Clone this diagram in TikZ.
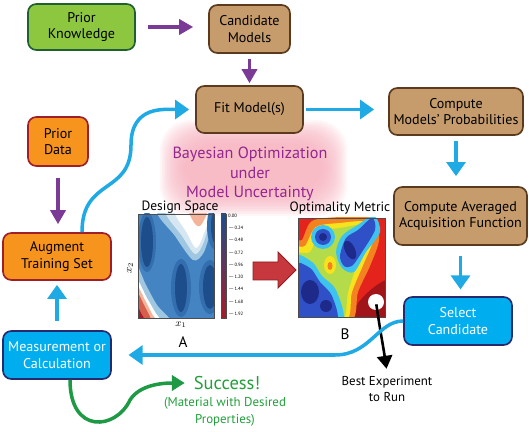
\documentclass[tikz,border=0pt]{standalone}
\usepackage{fontspec}
\setmainfont{PT Sans}
\usetikzlibrary{arrows.meta}

\definecolor{knowfill}{HTML}{8DC63F}
\definecolor{knowline}{HTML}{1F5F32}
\definecolor{modelfill}{HTML}{C69C6D}
\definecolor{modelline}{HTML}{5C3A1E}
\definecolor{datafill}{HTML}{F7941D}
\definecolor{dataline}{HTML}{9E1F2A}
\definecolor{stepfill}{HTML}{00AEEF}
\definecolor{stepline}{HTML}{262B70}
\definecolor{flowblue}{HTML}{1FAAE5}
\definecolor{flowpurple}{HTML}{7B3A96}
\definecolor{flowgreen}{HTML}{1E9A45}
\definecolor{titlepurple}{HTML}{92278F}
\definecolor{okgreen}{HTML}{22A03C}
\definecolor{glowpink}{HTML}{F6ACBA}
\definecolor{bigred}{HTML}{C7373E}
\definecolor{bigredline}{HTML}{8E1D22}
% RdBu for the design space
\definecolor{rbdark}{HTML}{1E4D8C}
\definecolor{rbblue}{HTML}{336FAE}
\definecolor{rbmid}{HTML}{4584C2}
\definecolor{rblight}{HTML}{9FC7E1}
\definecolor{rbpaler}{HTML}{D6E7F2}
\definecolor{rbpale}{HTML}{F5B49A}
\definecolor{rbred}{HTML}{D6604D}
\definecolor{rbdeep}{HTML}{A51C2A}
% jet for the optimality metric
\definecolor{jdeep}{HTML}{A0141A}
\definecolor{jred}{HTML}{E3231C}
\definecolor{jorange}{HTML}{F58220}
\definecolor{jyellow}{HTML}{F5E31E}
\definecolor{jgreen}{HTML}{B4DC4A}
\definecolor{jcyan}{HTML}{3EC3EE}
\definecolor{jblue}{HTML}{3050C8}
\definecolor{jdark}{HTML}{1E2A8A}

\tikzset{
  box/.style={draw, rounded corners=0.25cm, line width=1.4pt, align=center,
    inner sep=2pt, font=\fontsize{12}{14}\selectfont},
  knowbox/.style={box, fill=knowfill, draw=knowline},
  modelbox/.style={box, fill=modelfill, draw=modelline},
  databox/.style={box, fill=datafill, draw=dataline},
  stepbox/.style={box, fill=stepfill, draw=stepline, text=white},
  purpleflow/.style={draw=flowpurple, line width=2.6pt, -{Triangle[length=12pt,width=13pt]}},
  blueflow/.style={draw=flowblue, line width=3pt, -{Triangle[length=12pt,width=16pt]}},
  okflow/.style={draw=flowgreen, line width=3pt, -{Triangle[length=11pt,width=13pt]}},
  bestflow/.style={draw=black, line width=2.2pt, -{Triangle[length=11pt,width=13pt]}},
  plottitle/.style={font=\fontsize{11.5}{13}\selectfont},
  panel/.style={font=\fontsize{13}{15}\selectfont},
  tick/.style={anchor=west, inner sep=0pt, font=\fontsize{4}{4.5}\selectfont}
}

\begin{document}
\begin{tikzpicture}[x=0.03cm, y=-0.03cm]
\useasboundingbox (0,0) rectangle (529,432);

% glow behind the title
\foreach \k in {0,...,13}
  \fill[glowpink, opacity=0.11, rounded corners=0.9cm]
    ({160+1.8*\k},{120+1.8*\k}) rectangle ({347-1.8*\k},{216-1.8*\k});

% boxes
\node[knowbox, minimum width=3.21cm, minimum height=1.38cm] (know) at (81.5,27) {Prior\\Knowledge};
\node[modelbox, minimum width=2.43cm, minimum height=1.44cm] (cand) at (249.5,29) {Candidate\\Models};
\node[modelbox, minimum width=3.21cm, minimum height=1.41cm] (fit) at (249.5,109.5) {Fit Model(s)};
\node[modelbox, minimum width=4.02cm, minimum height=1.41cm] (prob) at (456,111.5) {Compute\\Models' Probabilities};
\node[modelbox, minimum width=3.99cm, minimum height=1.74cm] (acq) at (460.5,216) {Compute Averaged\\Acquisition Function};
\node[stepbox, minimum width=3.24cm, minimum height=1.44cm] (sel) at (458,321) {Select\\Candidate};
\node[stepbox, minimum width=3.24cm, minimum height=1.44cm] (meas) at (57,355) {Measurement or\\Calculation};
\node[databox, minimum width=3.24cm, minimum height=1.41cm] (aug) at (57,256.5) {Augment\\Training Set};
\node[databox, minimum width=1.8cm, minimum height=1.47cm] (pdata) at (58,141.5) {Prior\\Data};

\node[font=\fontsize{13.8}{16.5}\selectfont, text=titlepurple, align=center] (title) at (250,174)
  {Bayesian Optimization\\under\\Model Uncertainty};

% design space
\node[plottitle] (dtitle) at (180,207) {Design Space};
\begin{scope}
\clip (138,214) rectangle (214,318);
\fill[rbmid] (138,214) rectangle (214,318);
\fill[rblight] plot[smooth cycle] coordinates {(158,210) (175,236) (193,260) (204,252) (212,225) (214,210)};
\fill[rbpaler] plot[smooth cycle] coordinates {(166,210) (182,236) (195,254) (203,244) (210,222) (212,210)};
\fill[white] plot[smooth cycle] coordinates {(175,210) (187,233) (196,248) (203,236) (209,210)};
\fill[rbpale] plot[smooth cycle] coordinates {(189,210) (195,224) (200,226) (205,218) (207,210)};
\fill[rblight] plot[smooth cycle] coordinates {(134,262) (146,285) (157,305) (170,322) (134,322)};
\fill[white] plot[smooth cycle] coordinates {(134,276) (147,298) (155,312) (160,322) (134,322)};
\fill[rbpale] plot[smooth cycle] coordinates {(134,282) (146,302) (152,314) (156,322) (134,322)};
\fill[rbred] plot[smooth cycle] coordinates {(134,288) (144,305) (151,322) (134,322)};
\fill[rbdeep] plot[smooth cycle] coordinates {(134,300) (141,313) (145,322) (134,322)};
\fill[rbblue] (147,242) ellipse [x radius=9, y radius=30];
\fill[rbblue] (181,288) ellipse [x radius=10, y radius=29];
\fill[rbblue] (210,287) ellipse [x radius=11, y radius=27];
\fill[rbblue] (216,226) ellipse [x radius=9, y radius=24];
\fill[rbdark] (147,242) ellipse [x radius=6, y radius=25];
\fill[rbdark] (181,288) ellipse [x radius=6, y radius=24];
\fill[rbdark] (210,287) ellipse [x radius=7, y radius=22];
\fill[rbdark] (216,226) ellipse [x radius=5, y radius=18];
\end{scope}
\draw[line width=0.4pt, gray!60!black] (138,214) rectangle (214,318);
\shade[top color=rbdark, middle color=white, bottom color=rbdeep] (221,214) rectangle (226,318);
\draw[line width=0.3pt, gray!60!black] (221,214) rectangle (226,318);
\foreach \v [count=\i from 0] in {0.00,$-$0.24,$-$0.48,$-$0.72,$-$0.96,$-$1.20,$-$1.44,$-$1.68,$-$1.92}
  \node[tick] at (228,{216+12.25*\i}) {\v};
\node[rotate=90, font=\small] (xtwo) at (130,268) {$x_2$};
\node[font=\small] (xone) at (181,325) {$x_1$};
\node[panel] (pa) at (183,342) {A};

% arrow between the plots
\draw[fill=bigred, draw=bigredline, line width=0.8pt]
  (253,262) -- (278,262) -- (278,252) -- (296,270) -- (278,288) -- (278,280) -- (253,280) -- cycle;

% optimality metric
\node[plottitle] (otitle) at (340,208) {Optimality Metric};
\begin{scope}
\clip (298,218) rectangle (385,317);
\fill[jred] (298,218) rectangle (385,317);
\fill[jdeep] plot[smooth cycle] coordinates {(350,322) (364,296) (390,280) (390,322)};
\fill[jorange] plot[smooth cycle] coordinates {(302,240) (312,221) (340,217) (374,217) (379,240) (370,266) (358,292) (350,322) (294,322) (294,245)};
\fill[jyellow] plot[smooth cycle] coordinates {(305,246) (316,227) (340,223) (368,222) (373,240) (364,263) (352,292) (345,322) (294,322) (294,252)};
\fill[jgreen] plot[smooth cycle] coordinates {(310,252) (320,232) (340,228) (366,225) (368,242) (358,262) (348,292) (341,322) (294,322) (294,258)};
\fill[jgreen] (330,264) ellipse [x radius=9, y radius=12];
\fill[jyellow] (330,265) ellipse [x radius=6, y radius=9];
\fill[jorange] (330,266) ellipse [x radius=2.5, y radius=4];
\fill[jcyan] (323,237) circle [radius=12];
\fill[jcyan] plot[smooth cycle] coordinates {(336,252) (342,236) (356,226) (374,216) (380,232) (366,252) (354,272) (342,268)};
\fill[jcyan] plot[smooth cycle] coordinates {(294,258) (312,262) (322,276) (336,290) (342,322) (294,322)};
\fill[jblue] (323,237) circle [radius=8];
\fill[jblue] plot[smooth cycle] coordinates {(340,256) (346,238) (358,230) (372,218) (375,230) (362,252) (352,266) (344,266)};
\fill[jblue] plot[smooth cycle] coordinates {(294,266) (310,268) (320,282) (332,296) (336,322) (294,322)};
\fill[jdark] (323,237) circle [radius=4];
\fill[jdark, rotate around={25:(350,250)}] (350,250) ellipse [x radius=5, y radius=10];
\fill[jdark] (310,292) ellipse [x radius=9, y radius=12];
\fill[jdark] (326,306) circle [radius=6];
\end{scope}
\draw[line width=0.4pt, gray!60!black] (298,218) rectangle (385,317);
\node[panel] (pb) at (345,334) {B};
\node[circle, fill=white, minimum size=0.48cm, inner sep=0pt] (best) at (376,302) {};
\node[align=center, font=\fontsize{11}{14}\selectfont] (bexp) at (387,389) {Best Experiment\\to Run};
\draw[bestflow, shorten <=2pt, shorten >=0.1cm] (best.center) .. controls (380,330) and (383,345) .. (bexp.north);

% outcome
\node[text=okgreen, font=\fontsize{15.8}{18}\selectfont] (succ) at (227,383) {Success!};
\node[text=okgreen, align=center, font=\fontsize{11}{15}\selectfont] (succnote) at (225,412)
  {(Material with Desired\\Properties)};

% connectors
\coordinate (ret) at (335,355);
\coordinate (rise) at (131,145);
\coordinate (gmid) at (130,400);
\draw[purpleflow, shorten <=0.36cm, shorten >=0.45cm] (know.east) -- (know.east -| cand.west);
\draw[purpleflow, shorten <=0.15cm, shorten >=0.06cm] (cand.south) -- (fit.north);
\draw[blueflow, shorten <=0.06cm, shorten >=0.42cm] (fit.east) -- (fit.east -| prob.west);
\draw[blueflow, shorten <=0.15cm, shorten >=0.3cm] (prob.south) -- (prob.south |- acq.north);
\draw[blueflow, shorten <=0.3cm, shorten >=0.2cm] (acq.south) -- (acq.south |- sel.north);
\draw[blueflow, shorten >=0.5cm] (sel.west) .. controls +(-25,0) and +(35,0) .. (ret) -- (meas.east);
\draw[purpleflow, shorten <=0.33cm, shorten >=0.24cm] (pdata.south) -- (pdata.south |- aug.north);
\draw[blueflow, shorten <=0.27cm, shorten >=0.12cm] (meas.north) -- (aug.south);
\draw[blueflow, shorten >=0.18cm] ([xshift=0.75cm]aug.north) .. controls +(0,-55) and +(0,50) .. (rise)
  .. controls +(0,-40) and +(-30,0) .. (fit.west);
\draw[okflow, shorten >=0.15cm] ([xshift=0.39cm]meas.south) .. controls +(0,55) and +(-14,30) .. (gmid)
  .. controls +(10,-16) and +(-25,0) .. (succ.west);
\end{tikzpicture}
\end{document}
